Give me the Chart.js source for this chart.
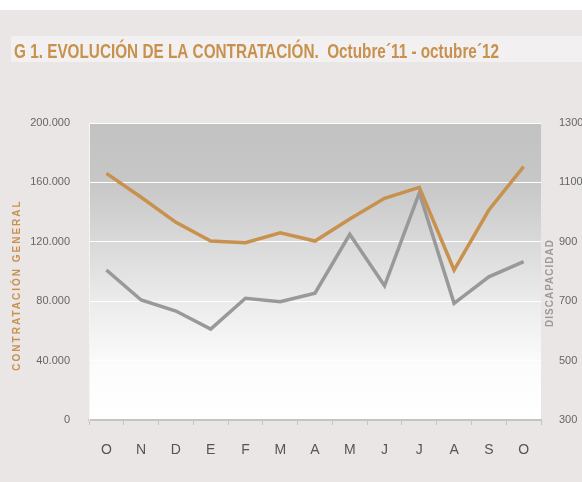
<!DOCTYPE html>
<html>
<head>
<meta charset="utf-8">
<script src="https://cdn.jsdelivr.net/npm/chart.js@4/dist/chart.umd.min.js"></script>
<style>
body{margin:0;background:#ebe6e6;}
canvas{display:block;}
</style>
</head>
<body>
<canvas id="graf" width="582" height="482"></canvas>
<script>
// datos
var meses=['O','N','D','E','F','M','A','M','J','J','A','S','O'];
var contratacionGeneral=[166100,150000,133100,120500,119400,126100,120500,135400,149300,156700,101000,141400,170600];
var discapacidad=[805,704,667,606,710,698,727,925,752,1065,693,782,833];
var ejeGeneral={min:0,max:200000,paso:40000};
var ejeDiscapacidad={min:300,max:1300,paso:200};
var titulo='G 1. EVOLUCIÓN DE LA CONTRATACIÓN.  Octubre´11 - octubre´12';

function puntos(v){return v.toString().replace(/\B(?=(\d{3})+(?!\d))/g,'.');}

var fondo={
  id:'fondo',
  beforeDraw:function(chart){
    var c=chart.ctx,a=chart.chartArea;
    c.save();
    c.fillStyle='#ebe6e6';c.fillRect(0,0,582,482);
    c.fillStyle='#ffffff';c.fillRect(0,0,582,10);
    c.fillStyle='#f2f0f0';c.fillRect(11,36,571,26);
    c.fillStyle='#c8914e';
    c.font='bold 21px "Liberation Sans", Arial, sans-serif';
    c.textBaseline='alphabetic';
    c.fillText(titulo,14,57.5,485);
    var g=c.createLinearGradient(0,a.top,0,a.bottom);
    g.addColorStop(0,'#c2c2c2');
    g.addColorStop(0.2,'#c7c7c7');
    g.addColorStop(0.6,'#ebebeb');
    g.addColorStop(0.82,'#fcfcfc');
    g.addColorStop(1,'#ffffff');
    c.fillStyle=g;
    c.fillRect(a.left,a.top,a.right-a.left,a.bottom-a.top);
    c.restore();
  },
  afterDraw:function(chart){
    var c=chart.ctx;
    c.save();
    c.font='bold 10px "Liberation Sans", Arial, sans-serif';
    c.textAlign='center';c.textBaseline='middle';
    c.letterSpacing='2px';
    c.fillStyle='#c8914e';
    c.translate(17,285);c.rotate(-Math.PI/2);
    c.fillText('CONTRATACIÓN GENERAL',0,0);
    c.restore();
    c.save();
    c.font='bold 10px "Liberation Sans", Arial, sans-serif';
    c.textAlign='center';c.textBaseline='middle';
    c.letterSpacing='1px';
    c.fillStyle='#9a9a9a';
    c.translate(550,283);c.rotate(-Math.PI/2);
    c.fillText('DISCAPACIDAD',0,0);
    c.restore();
  }
};

var grafico=new Chart(document.getElementById('graf').getContext('2d'),{
  type:'line',
  data:{
    labels:meses,
    datasets:[
      {label:'Contratación general',data:contratacionGeneral,yAxisID:'y',borderColor:'#c8914e',borderWidth:3.5,pointRadius:0,tension:0,fill:false},
      {label:'Discapacidad',data:discapacidad,yAxisID:'y1',borderColor:'#999999',borderWidth:3.5,pointRadius:0,tension:0,fill:false}
    ]
  },
  options:{
    responsive:false,
    animation:false,
    devicePixelRatio:1,
    layout:{padding:{top:123,left:0,right:0,bottom:0}},
    plugins:{legend:{display:false},tooltip:{enabled:false}},
    scales:{
      x:{
        offset:true,
        grid:{offset:true,drawOnChartArea:false,drawTicks:true,tickLength:5,color:'#c4c4c4'},
        border:{display:true,color:'#c4c4c4',width:2},
        ticks:{color:'#555555',padding:17,font:{family:'"Liberation Sans", Arial, sans-serif',size:14},maxRotation:0,autoSkip:false},
        afterFit:function(s){s.height=62;}
      },
      y:{
        position:'left',
        min:ejeGeneral.min,max:ejeGeneral.max,
        ticks:{stepSize:ejeGeneral.paso,color:'#666666',padding:19,font:{family:'"Liberation Sans", Arial, sans-serif',size:11},callback:function(v){return puntos(v);}},
        grid:{drawTicks:false,lineWidth:1,color:function(ctx){return ctx.tick&&ctx.tick.value===0?'rgba(0,0,0,0)':'#ffffff';}},
        border:{display:true,color:'#f4f4f4',width:1},
        afterFit:function(s){s.width=89;}
      },
      y1:{
        position:'right',
        min:ejeDiscapacidad.min,max:ejeDiscapacidad.max,
        ticks:{stepSize:ejeDiscapacidad.paso,color:'#666666',padding:18,font:{family:'"Liberation Sans", Arial, sans-serif',size:11},callback:function(v){return String(v);}},
        grid:{display:false,drawTicks:false},
        border:{display:false},
        afterFit:function(s){s.width=41;}
      }
    }
  },
  plugins:[fondo]
});
</script>
</body>
</html>
